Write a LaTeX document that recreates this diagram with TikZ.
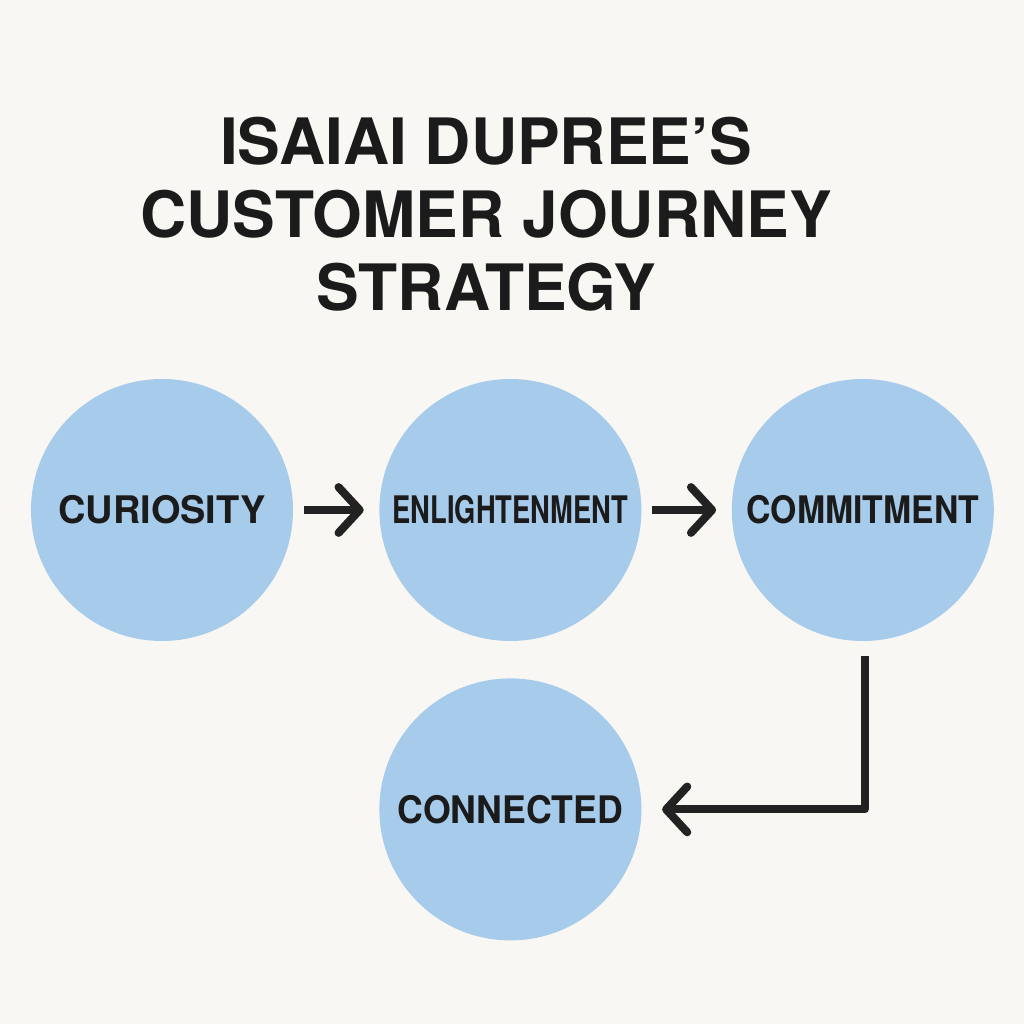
\documentclass[tikz,border=0pt]{standalone}
\usepackage{fontspec}
\setmainfont{TeX Gyre Heros}
\usepackage{graphicx}
\usetikzlibrary{arrows.meta,positioning}
\definecolor{paper}{HTML}{F8F7F4}
\definecolor{bubble}{HTML}{A7CBEA}
\definecolor{ink}{HTML}{1B1B1B}
\definecolor{arrowgray}{HTML}{222222}
\newcommand{\narrow}[2]{\scalebox{#1}[1]{#2}}

\begin{document}
\begin{tikzpicture}[node distance=0.86cm, every node/.style={text=ink}]
\fill[paper] (0,0) rectangle (10.24,10.24);
\node[align=center,font=\bfseries\fontsize{18.2}{20.8}\selectfont] (title) at (4.86,8.1) {ISAIAI DUPREE’S\\CUSTOMER JOURNEY\\STRATEGY};
\node[circle,fill=bubble,minimum size=2.62cm,inner sep=0pt,font=\bfseries\fontsize{10.8}{12}\selectfont] (curiosity) at (1.62,5.14) {CURIOSITY};
\node[circle,fill=bubble,minimum size=2.62cm,inner sep=0pt,font=\bfseries\fontsize{10.8}{12}\selectfont,right=0.85cm of curiosity] (enlight) {\narrow{0.72}{ENLIGHTENMENT}};
\node[circle,fill=bubble,minimum size=2.62cm,inner sep=0pt,font=\bfseries\fontsize{10.8}{12}\selectfont,right=0.89cm of enlight] (commit) {\narrow{0.89}{COMMITMENT}};
\node[circle,fill=bubble,minimum size=2.62cm,inner sep=0pt,font=\bfseries\fontsize{10.8}{12}\selectfont,below=0.36cm of enlight] (connected) {\narrow{0.94}{CONNECTED}};
\foreach \a/\b in {curiosity/enlight,enlight/commit}
  \draw[-{Straight Barb[round,length=6pt,width=13pt]},line width=2.3pt,arrowgray,shorten <=0.1cm,shorten >=0.15cm] (\a)--(\b);
\draw[-{Straight Barb[round,length=6pt,width=13pt]},line width=2.3pt,arrowgray,line join=round,shorten <=0.14cm,shorten >=0.2cm] ([xshift=0.02cm]commit.south) |- (connected);
\end{tikzpicture}
\end{document}
